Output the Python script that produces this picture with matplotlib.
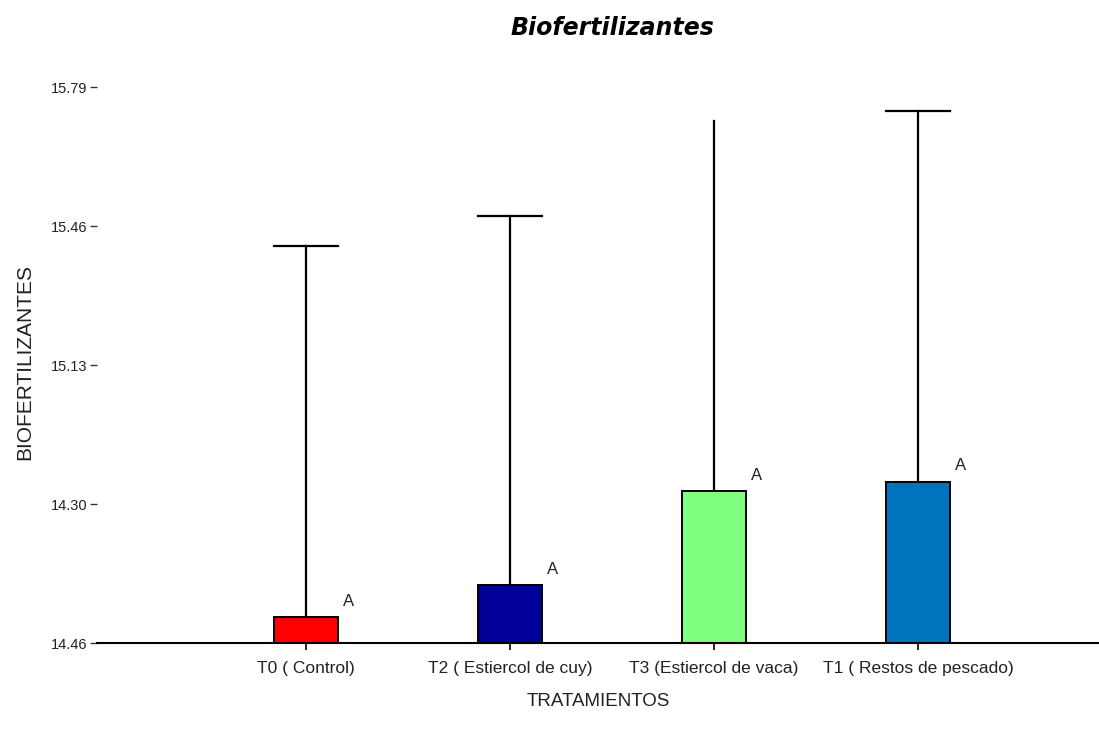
import numpy as np
import matplotlib.pyplot as plt

plt.rcParams['font.family'] = ['Liberation Sans', 'DejaVu Sans']

# Medias por tratamiento y limite superior de la barra de error
tratamientos = ['T0 ( Control)', 'T2 ( Estiercol de cuy)',
                'T3 (Estiercol de vaca)', 'T1 ( Restos de pescado)']
medias = [14.531, 14.608, 14.830, 14.853]
limite_sup = [15.412, 15.483, 15.709, 15.734]
con_tope = [True, True, False, True]
letras = ['A', 'A', 'A', 'A']
colores = ['#ff0000', '#000099', '#80ff80', '#0073bf']

y_ticks = [14.47, 14.80, 15.13, 15.46, 15.79]
y_ticklabels = ['14.46', '14.30', '15.13', '15.46', '15.79']
y_base = 14.47

fig = plt.figure(figsize=(10.99, 7.31), dpi=100)
ax = fig.add_axes([97 / 1099, 88 / 731, 1 - 97 / 1099, (643 - 60) / 731])

x = np.arange(len(tratamientos))
ancho = 0.31

ax.bar(x, np.array(medias) - y_base, bottom=y_base, width=ancho,
       color=colores, edgecolor='black', linewidth=1.4, zorder=2)

# barras de error solo hacia arriba
for xi, m, s, tope in zip(x, medias, limite_sup, con_tope):
    ax.plot([xi, xi], [m, s], color='black', lw=1.6, zorder=1)
    if tope:
        ax.plot([xi - ancho / 2, xi + ancho / 2], [s, s], color='black', lw=1.6)

for xi, m, letra in zip(x, medias, letras):
    ax.annotate(letra, (xi + ancho / 2, m), xytext=(4, 6),
                textcoords='offset points', ha='left', va='bottom',
                fontsize=12, color='#222222')

ax.set_xlim(-1.025, 3.887)
ax.set_ylim(y_base, y_base + (643 - 60) / 421.2)
ax.set_yticks(y_ticks)
ax.set_yticklabels(y_ticklabels, fontsize=10.5, color='#222222')
ax.set_xticks(x)
ax.set_xticklabels(tratamientos, fontsize=12.5, color='#222222')
ax.tick_params(axis='y', length=5, width=1, pad=2, color='#333333')
ax.tick_params(axis='x', length=5, width=1.2, pad=8)

for lado in ['top', 'right', 'left']:
    ax.spines[lado].set_visible(False)
ax.spines['bottom'].set_linewidth(1.5)

ax.set_xlabel('TRATAMIENTOS', fontsize=13.5, color='#222222', labelpad=12)
ax.set_ylabel('BIOFERTILIZANTES', fontsize=15, color='#222222')
ax.yaxis.set_label_coords(-0.063, 0.482)

fig.text(612 / 1099, 1 - 28 / 731, 'Biofertilizantes', ha='center', va='center',
         fontsize=17, fontweight='bold', style='italic', family='DejaVu Sans')

fig.savefig('out.png', dpi=100)
